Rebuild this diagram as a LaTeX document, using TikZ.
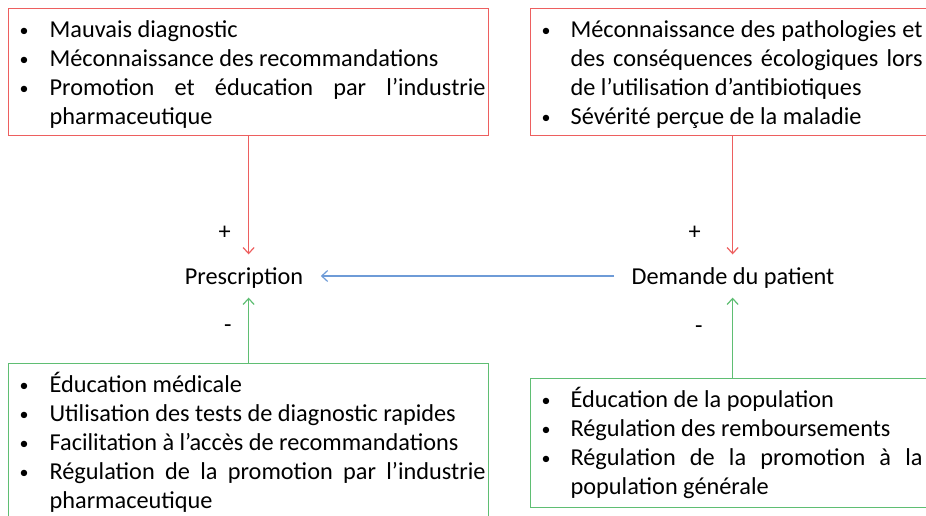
\documentclass[tikz,border=0pt]{standalone}
\usepackage{fontspec}
\setmainfont{Carlito}
\usepackage{enumitem}
\usetikzlibrary{arrows.meta}
\definecolor{rougecadre}{RGB}{237,95,95}
\definecolor{vertcadre}{RGB}{95,190,115}
\definecolor{bleufleche}{RGB}{110,155,215}
\newlist{puces}{itemize}{1}
\setlist[puces]{label={\strut\raisebox{1.5pt}{\fontsize{18}{29}\selectfont\textbullet}}, align=left, labelwidth=8pt, labelsep=*, topsep=0pt, partopsep=0pt, itemsep=0pt, parsep=0pt}
\hyphenpenalty=10000
\exhyphenpenalty=10000

\begin{document}
\begin{tikzpicture}[x=1pt,y=-1pt,>={Straight Barb[length=6pt,width=11pt]},line width=1.2pt,
                    font=\fontsize{24.3}{29}\selectfont,
                    cadre/.style={draw=#1,anchor=north west,inner ysep=0pt,align=justify},
                    mot/.style={anchor=base,inner xsep=17pt,inner ysep=0pt,text height=29pt,text depth=13pt}]
                    \useasboundingbox (0,0) rectangle (926,515);

                    \node[cadre=rougecadre,text width=474pt,inner xsep=3pt,text height=0pt,text depth=127pt] (causes-presc) at (8,8)
                        {\begin{puces}[leftmargin=38pt,labelindent=8pt]
                            \item Mauvais diagnostic
                            \item Méconnaissance des recommandations
                            \item Promotion et éducation par l’industrie pharmaceutique
                        \end{puces}};
                    \node[cadre=rougecadre,text width=380pt,inner xsep=12pt,text height=0pt,text depth=127pt] (causes-dem) at (530,8)
                        {\begin{puces}[leftmargin=28pt,labelindent=-1pt]
                            \item Méconnaissance des pathologies et des conséquences écologiques lors de l’utilisation d’antibiotiques
                            \item Sévérité perçue de la maladie
                        \end{puces}};
                    \node[cadre=vertcadre,text width=474pt,inner xsep=3pt,text height=-2pt,text depth=170pt] (leviers-presc) at (8,363)
                        {\begin{puces}[leftmargin=38pt,labelindent=8pt]
                            \item Éducation médicale
                            \item Utilisation des tests de diagnostic rapides
                            \item Facilitation à l’accès de recommandations
                            \item Régulation de la promotion par l’industrie pharmaceutique
                        \end{puces}};
                    \node[cadre=vertcadre,text width=380pt,inner xsep=12pt,text height=-3pt,text depth=129pt] (leviers-dem) at (530,378)
                        {\begin{puces}[leftmargin=28pt,labelindent=-1pt]
                            \item Éducation de la population
                            \item Régulation des remboursements
                            \item Régulation de la promotion à la population générale
                        \end{puces}};

                    \node[mot] (prescription) at (244,284) {Prescription};
                    \node[mot] (demande) at (733,284) {Demande du patient};

                    \draw [->,rougecadre] (causes-presc.south) -- (causes-presc.south |- prescription.north) node[pos=.82,left=14pt,text=black] {+};
                    \draw [->,vertcadre] (leviers-presc.north) -- (leviers-presc.north |- prescription.south) node[pos=.52,left=13pt,text=black] {-};

                    \draw [->,rougecadre] (causes-dem.south) -- (causes-dem.south |- demande.north) node[pos=.82,left=28pt,text=black] {+};
                    \draw [->,vertcadre] (leviers-dem.north) -- (leviers-dem.north |- demande.south) node[pos=.6,left=26pt,text=black] {-};

                    \draw [->,bleufleche] (demande.west) -- (prescription.east);

                \end{tikzpicture}
\end{document}
